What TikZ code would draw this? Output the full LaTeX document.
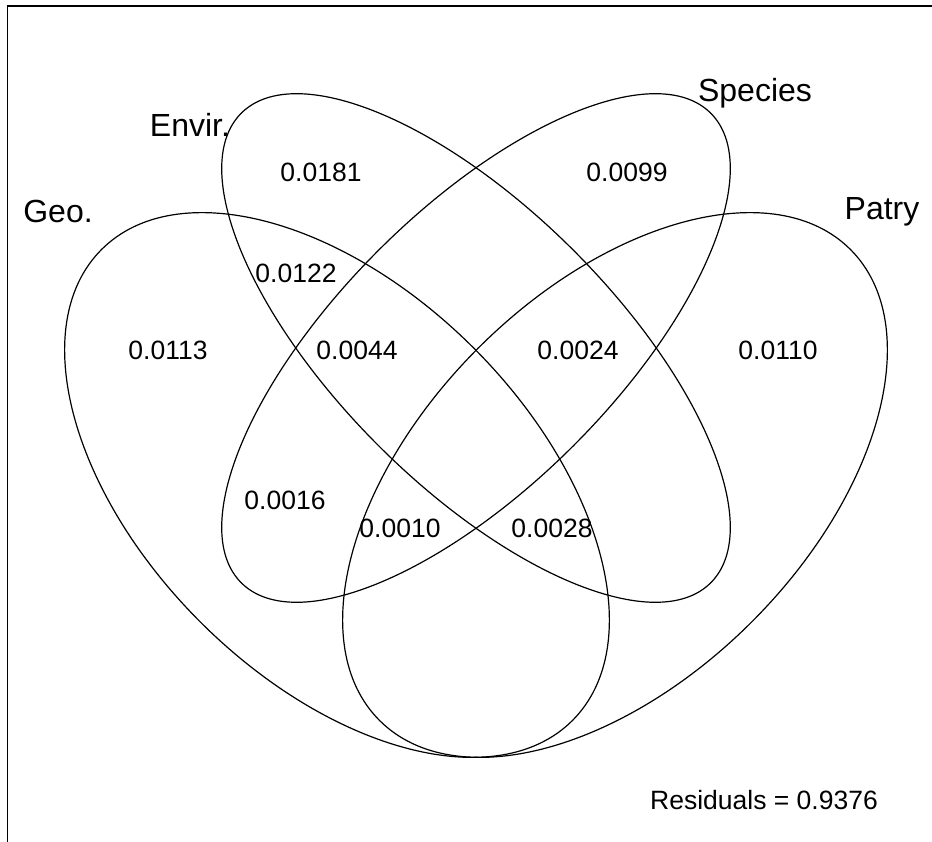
\documentclass[tikz,border=0pt]{standalone}
\usepackage{fontspec}
\setmainfont{Liberation Sans}
\begin{document}
\begin{tikzpicture}[x=1pt,y=1pt,
  setline/.style={line width=1.2pt},
  setlabel/.style={font=\fontsize{32}{36}\selectfont, inner sep=0pt},
  fraction/.style={font=\fontsize{26.5}{30}\selectfont, inner sep=0pt}]
\useasboundingbox (0,0) rectangle (932,842);
\clip (0,0) rectangle (932,842);
% plot frame
\draw[line width=1.3pt] (7.5,-5) -- (7.5,836) -- (940,836);
% the four sets
\draw[setline, rotate around={-45:(337,357)}] (337,357) ellipse [x radius=333, y radius=193.5];
\draw[setline, rotate around={45:(615,357)}] (615,357) ellipse [x radius=333, y radius=193.5];
\draw[setline, rotate around={-45:(476,494)}] (476,494) ellipse [x radius=332, y radius=138];
\draw[setline, rotate around={45:(476,494)}] (476,494) ellipse [x radius=332, y radius=138];
% set names
\node[setlabel] (envir) at (190,717) {Envir.};
\node[setlabel] (species) at (755,749) {Species};
\node[setlabel] (geo) at (58,631) {Geo.};
\node[setlabel] (patry) at (882,630) {Patry};
% fractions
\node[fraction] (f1) at (321,670) {0.0181};
\node[fraction] (f2) at (627,670) {0.0099};
\node[fraction] (f3) at (168,492) {0.0113};
\node[fraction] (f4) at (778,492) {0.0110};
\node[fraction] (f5) at (296,569) {0.0122};
\node[fraction] (f6) at (357,492) {0.0044};
\node[fraction] (f7) at (578,492) {0.0024};
\node[fraction] (f8) at (285,342) {0.0016};
\node[fraction] (f9) at (400,314) {0.0010};
\node[fraction] (f10) at (552,314) {0.0028};
\node[fraction] (res) at (764,42) {Residuals = 0.9376};
\end{tikzpicture}
\end{document}
